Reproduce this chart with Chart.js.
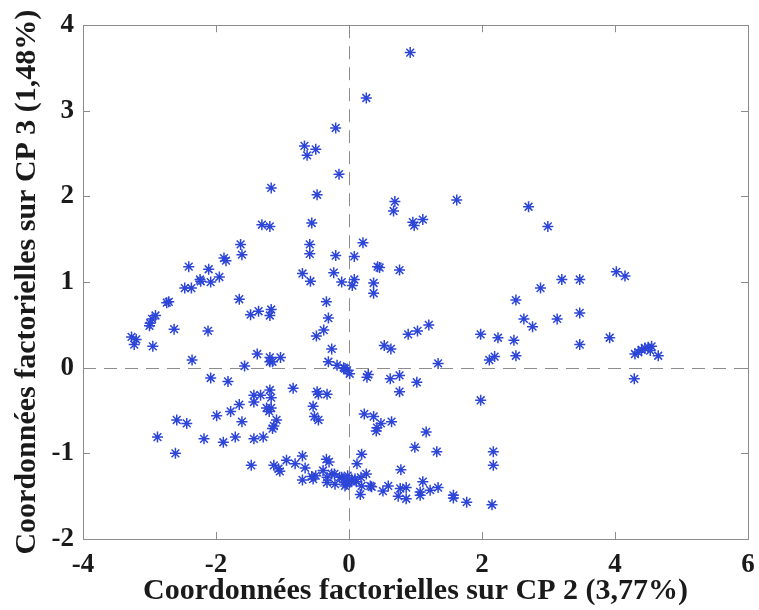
<!DOCTYPE html>
<html>
<head>
<meta charset="utf-8">
<script src="https://cdn.jsdelivr.net/npm/chart.js@4/dist/chart.umd.min.js"></script>
<style>
    body { margin: 0; background: #fff; }
    #wrap { width: 759px; height: 610px; }
</style>
</head>
<body>
<div id="wrap"><canvas id="acp"></canvas></div>
<script>
// Factor coordinates (CP 2 on x, CP 3 on y)
const cp2 = [
    0.92, 0.26, -0.20, -0.67, -0.50, -0.63, -0.15, -1.17, -0.48,
    0.69, 0.67, 1.62, 2.70, 2.99, 0.96, 0.98, 1.11,
    -1.31, -1.19, -0.56, -1.63, -1.61, -0.59, -0.59, -0.20,
    -1.88, -1.85, -2.41, -2.11, -1.95, -2.24, -2.23, -2.08, -2.47, -2.37,
    -0.70, -0.58, -0.23, -0.11,
    0.21, 0.08, 0.43, 0.46, 0.76, 0.08, 0.05, 0.37, 0.37,
    4.02, 4.15, 3.20, 3.47, 2.88, 2.51, 2.63, 2.76, 3.13, 3.47, 3.47, 3.92,
    1.20, 1.03, 0.89, 0.53, 0.63, 1.98, 2.24, 2.48, 2.51, 2.11, 2.19, 1.34,
    4.30, 4.35, 4.40, 4.45, 4.50, 4.55, 4.53, 4.65,
    -2.71, -2.74, -1.65, -0.34, -2.91, -2.96, -2.99, -3.00, -1.48, -1.36, -1.17, -1.19, -0.31,
    -2.63, -2.12, -0.38, -0.49, -3.27, -3.20, -3.23, -2.95, -0.26,
    -2.36, -1.38, -1.19, -1.03, -1.19, -1.15, -1.57, -0.31, -0.18, -0.06,
    -0.08, -0.03, 0.01, 0.27, 0.29, 0.62, 0.76, 0.76, 1.02, 4.29, 1.98,
    0.23, 0.37, 0.48, 0.64, 0.42, 0.41, 1.16, 0.99, 1.32, 2.17, 2.17,
    0.19, 0.12, 0.78, 0.26, 1.11,
    -0.11, 0.04, 0.04, 0.11, 0.18, -0.06, -0.04, 0.19, 0.34, 0.17, 0.51, 0.59, 0.77, 0.86, 0.74, 0.86,
    1.07, 1.07, 1.22, 1.34, 1.57, 1.57, 1.77, 2.15, 0.32, 0.09, -0.26,
    -2.08, -1.82, -0.84, -1.43, -1.33, -1.19, -1.17, -0.48, -0.46, -0.33, -1.43, -1.65, -1.24, -1.17,
    -1.20, -0.54, -0.52, -0.46, -1.78, -1.99, -1.61, -1.09, -1.13, -1.15,
    -2.59, -2.44, -2.88, -2.18, -1.89, -1.71, -1.43, -1.29, -2.61,
    -1.47, -1.13, -1.06, -1.04, -0.94, -0.81, -0.70, -0.66, -0.34, -0.30, -0.70, -0.56, -0.50, -0.54,
    -0.39, -0.33, -0.33, -0.22, -0.21, -0.14, -0.08, -0.03, -0.02
];
const cp3 = [
    3.68, 3.15, 2.80, 2.59, 2.55, 2.48, 2.26, 2.10, 2.02,
    1.94, 1.83, 1.96, 1.88, 1.65, 1.70, 1.66, 1.73,
    1.67, 1.65, 1.69, 1.44, 1.32, 1.44, 1.33, 1.31,
    1.28, 1.25, 1.18, 1.15, 1.06, 1.03, 1.01, 1.00, 0.93, 0.93,
    1.10, 1.01, 1.11, 1.00,
    1.46, 1.30, 1.18, 1.17, 1.14, 1.03, 0.96, 0.99, 0.87,
    1.12, 1.07, 1.03, 1.03, 0.93, 0.79, 0.57, 0.48, 0.57, 0.64, 0.27, 0.35,
    0.50, 0.43, 0.39, 0.26, 0.22, 0.39, 0.35, 0.32, 0.14, 0.09, 0.13, 0.05,
    0.16, 0.18, 0.21, 0.23, 0.24, 0.25, 0.20, 0.14,
    0.77, 0.76, 0.80, 0.77, 0.61, 0.57, 0.52, 0.49, 0.62, 0.66, 0.68, 0.61, 0.58,
    0.45, 0.43, 0.44, 0.37, 0.36, 0.33, 0.27, 0.25, 0.22,
    0.09, 0.16, 0.12, 0.12, 0.07, 0.07, 0.02, 0.07, 0.03, -0.01,
    0.00, -0.03, -0.07, -0.11, -0.08, -0.13, -0.09, -0.28, -0.17, -0.13, -0.38,
    -0.54, -0.57, -0.65, -0.63, -0.70, -0.74, -0.75, -0.93, -0.98, -0.98, -1.14,
    -1.01, -1.12, -1.19, -1.24, -1.33,
    -1.28, -1.30, -1.33, -1.33, -1.28, -1.38, -1.36, -1.38, -1.39, -1.48, -1.44, -1.38, -1.41, -1.40, -1.50, -1.53,
    -1.45, -1.49, -1.43, -1.40, -1.49, -1.52, -1.57, -1.60, -1.38, -1.30, -1.24,
    -0.12, -0.16, -0.24, -0.32, -0.32, -0.26, -0.35, -0.28, -0.31, -0.31, -0.40, -0.43, -0.47, -0.47,
    -0.51, -0.45, -0.57, -0.61, -0.51, -0.56, -0.63, -0.61, -0.68, -0.71,
    -0.61, -0.65, -0.81, -0.83, -0.87, -0.81, -0.83, -0.81, -1.00,
    -1.14, -1.14, -1.18, -1.21, -1.08, -1.12, -1.03, -1.17, -1.07, -1.10, -1.31, -1.27, -1.26, -1.30,
    -1.20, -1.28, -1.34, -1.24, -1.36, -1.28, -1.30, -1.34, -1.26
];

const xTitle = 'Coordonnées factorielles sur CP 2 (3,77%)';
const yTitle = 'Coordonnées factorielles sur CP 3 (1,48%)';

const serif = '"Liberation Serif", "Times New Roman", serif';
const tickFont = { family: serif, size: 27, weight: 'bold' };
const titleFont = { family: serif, size: 30, weight: 'bold' };
const ink = '#1a1a1a';

// box round the plot, inward ticks, dashed zero lines (matlab look)
const matlabFrame = {
    id: 'matlabFrame',
    beforeDatasetsDraw(chart) {
        const { ctx, chartArea: a, scales: { x, y } } = chart;
        const x0 = Math.round(x.getPixelForValue(0)) + 0.5;
        const y0 = Math.round(y.getPixelForValue(0)) + 0.5;
        ctx.save();
        ctx.strokeStyle = '#8c8c8c';
        ctx.lineWidth = 1;
        ctx.setLineDash([13, 8]);
        ctx.beginPath();
        ctx.moveTo(x0, a.top);
        ctx.lineTo(x0, a.bottom);
        ctx.moveTo(a.left, y0);
        ctx.lineTo(a.right, y0);
        ctx.stroke();
        ctx.restore();
    },
    afterDatasetsDraw(chart) {
        const { ctx, chartArea: a, scales: { x, y } } = chart;
        const len = 7;
        ctx.save();
        ctx.strokeStyle = '#8c8c8c';
        ctx.lineWidth = 1;
        ctx.strokeRect(Math.round(a.left) + 0.5, Math.round(a.top) + 0.5,
            Math.round(a.width), Math.round(a.height));
        ctx.beginPath();
        x.ticks.forEach(t => {
            const px = Math.round(x.getPixelForValue(t.value)) + 0.5;
            ctx.moveTo(px, a.bottom); ctx.lineTo(px, a.bottom - len);
            ctx.moveTo(px, a.top); ctx.lineTo(px, a.top + len);
        });
        y.ticks.forEach(t => {
            const py = Math.round(y.getPixelForValue(t.value)) + 0.5;
            ctx.moveTo(a.left, py); ctx.lineTo(a.left + len, py);
            ctx.moveTo(a.right, py); ctx.lineTo(a.right - len, py);
        });
        ctx.stroke();
        ctx.restore();
    }
};

const points = cp2.map((v, i) => ({ x: v, y: cp3[i] }));

new Chart(document.getElementById('acp'), {
    type: 'scatter',
    data: {
        datasets: [{
            data: points,
            pointStyle: 'star',
            pointRadius: 5.5,
            pointBorderWidth: 1.5,
            borderColor: 'rgb(45, 70, 215)',
            backgroundColor: 'rgb(45, 70, 215)'
        }]
    },
    options: {
        responsive: true,
        maintainAspectRatio: false,
        animation: false,
        layout: { padding: { top: 19, right: 11, bottom: 0, left: 0 } },
        plugins: {
            legend: { display: false },
            tooltip: { enabled: false }
        },
        scales: {
            x: {
                type: 'linear',
                min: -4,
                max: 6,
                grid: { display: false, drawTicks: false },
                border: { display: false },
                ticks: { stepSize: 2, font: tickFont, color: ink, padding: 10 },
                title: { display: true, text: xTitle, font: titleFont, color: ink, padding: { top: 0, bottom: 1 } },
                afterFit(scale) {
                    scale.height = 71;
                    // the end labels may hang over the side margins
                    scale.paddingLeft = 0;
                    scale.paddingRight = 0;
                }
            },
            y: {
                type: 'linear',
                min: -2,
                max: 4,
                grid: { display: false, drawTicks: false },
                border: { display: false },
                ticks: { stepSize: 1, font: tickFont, color: ink, padding: 9 },
                title: { display: true, text: yTitle, font: titleFont, color: ink, padding: { top: 9, bottom: 0 } },
                afterFit(scale) { scale.width = 83; }
            }
        }
    },
    plugins: [matlabFrame]
});
</script>
</body>
</html>
